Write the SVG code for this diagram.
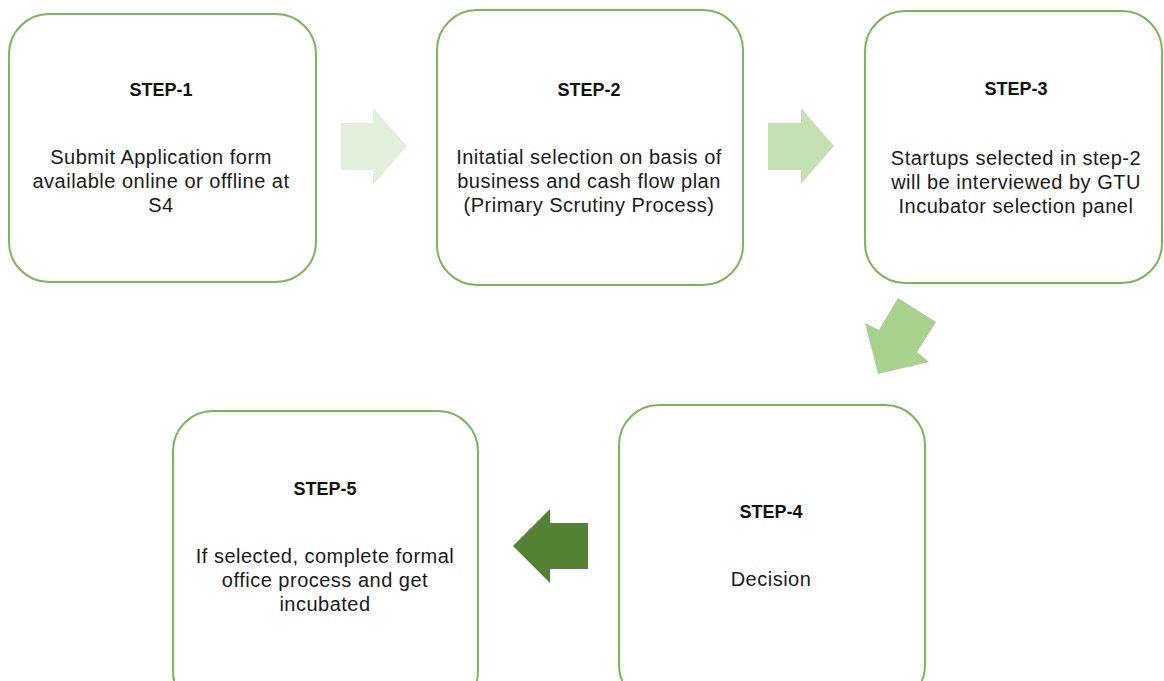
<svg xmlns="http://www.w3.org/2000/svg" width="1164" height="681" viewBox="0 0 1164 681">
<style>
.box{fill:#fff;stroke:#7db55a;stroke-width:2}
.t{font-family:"Liberation Sans",Arial,sans-serif;fill:#1a1a1a;text-anchor:middle}
.h{font-size:18px;font-weight:bold;fill:#111}
.b{font-size:20px;letter-spacing:0.5px}
</style>
<rect width="1164" height="681" fill="#fff"/>
<g id="connectors">
<polygon points="341,123 373,123 373,108 407,146 373,185 373,170 341,170" fill="#e2efda"/>
<polygon points="768,123 801,123 801,108 834,146 801,184 801,170 768,170" fill="#c5e0b3"/>
<polygon points="898,298 936,322 917,352 929,362 878,374 865,323 879,330" fill="#a9d18e"/>
<polygon points="588,523 550,523 550,509 513,546 550,583 550,569 588,569" fill="#548235"/>
</g>
<g id="step1">
<rect class="box" x="9" y="14" width="307" height="268" rx="40"/>
<text class="t h" x="161" y="96">STEP-1</text>
<text class="t b" x="161" y="164">Submit Application form</text>
<text class="t b" x="161" y="188">available online or offline at</text>
<text class="t b" x="161" y="212">S4</text>
</g>
<g id="step2">
<rect class="box" x="437" y="10" width="306" height="275" rx="40"/>
<text class="t h" x="589" y="96">STEP-2</text>
<text class="t b" x="589" y="164">Initatial selection on basis of</text>
<text class="t b" x="589" y="188">business and cash flow plan</text>
<text class="t b" x="589" y="212">(Primary Scrutiny Process)</text>
</g>
<g id="step3">
<rect class="box" x="865" y="11" width="297" height="272" rx="40"/>
<text class="t h" x="1016" y="95">STEP-3</text>
<text class="t b" x="1016" y="165">Startups selected in step-2</text>
<text class="t b" x="1016" y="189">will be interviewed by GTU</text>
<text class="t b" x="1016" y="213">Incubator selection panel</text>
</g>
<g id="step4">
<rect class="box" x="619" y="405" width="306" height="300" rx="40"/>
<text class="t h" x="771" y="518">STEP-4</text>
<text class="t b" x="771" y="586">Decision</text>
</g>
<g id="step5">
<rect class="box" x="173" y="411" width="305" height="300" rx="40"/>
<text class="t h" x="325" y="495">STEP-5</text>
<text class="t b" x="325" y="563">If selected, complete formal</text>
<text class="t b" x="325" y="587">office process and get</text>
<text class="t b" x="325" y="611">incubated</text>
</g>
</svg>
